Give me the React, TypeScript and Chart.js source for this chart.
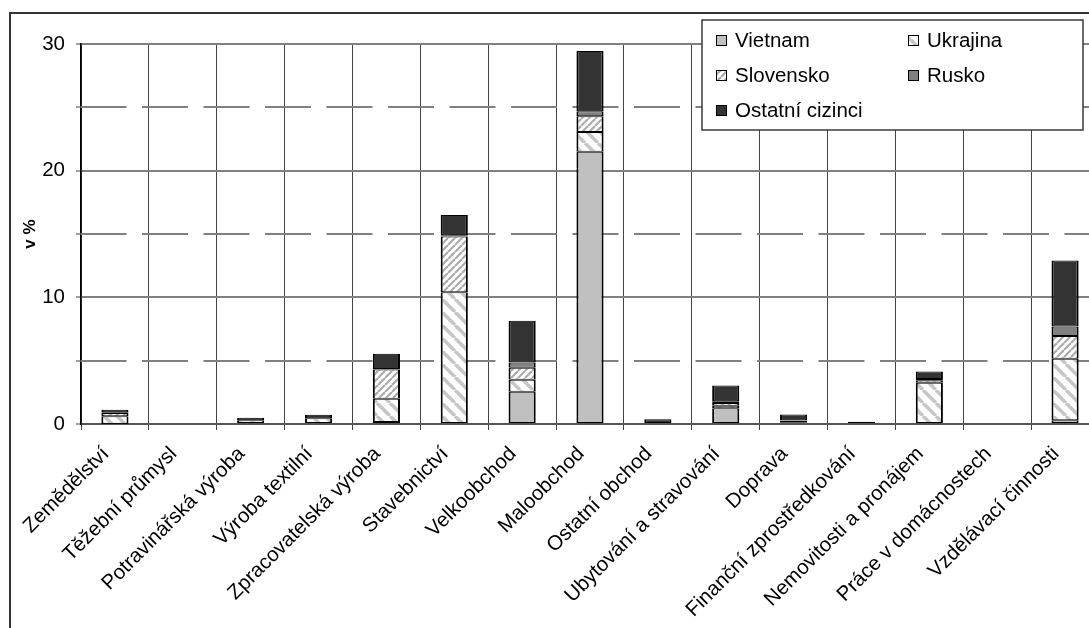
import React, { useEffect, useRef } from 'react';
import { Chart, registerables } from 'chart.js';

Chart.register(...registerables);

const categories = [
  'Zemědělství',
  'Těžební průmysl',
  'Potravinářská výroba',
  'Výroba textilní',
  'Zpracovatelská výroba',
  'Stavebnictví',
  'Velkoobchod',
  'Maloobchod',
  'Ostatní obchod',
  'Ubytování a stravování',
  'Doprava',
  'Finanční zprostředkování',
  'Nemovitosti a pronájem',
  'Práce v domácnostech',
  'Vzdělávací činnosti',
];

const seriesNames = ['Vietnam', 'Ukrajina', 'Slovensko', 'Rusko', 'Ostatní cizinci'];

const vietnam = [0.02, 0, 0, 0, 0.15, 0, 2.55, 21.5, 0, 1.25, 0.1, 0, 0, 0, 0.3];
const ukrajina = [0.6, 0, 0.3, 0.45, 1.85, 10.4, 0.95, 1.55, 0, 0.2, 0.15, 0, 3.25, 0, 4.85];
const slovensko = [0.25, 0, 0, 0, 2.3, 4.4, 0.95, 1.25, 0, 0.2, 0.05, 0, 0.2, 0, 1.8];
const rusko = [0.05, 0, 0, 0, 0.05, 0.1, 0.4, 0.4, 0, 0.15, 0, 0, 0.1, 0, 0.75];
const ostatni = [0.2, 0, 0.2, 0.28, 1.2, 1.6, 3.3, 4.75, 0.38, 1.24, 0.45, 0.17, 0.6, 0, 5.2];

const yTickValues = [0, 10, 20, 30];

const FONT = "'Liberation Sans', Arial, sans-serif";

function makeStripe(period: number, lineW: number, color: string, dir: 'back' | 'fwd') {
  const c = document.createElement('canvas');
  c.width = period;
  c.height = period;
  const g = c.getContext('2d')!;
  g.fillStyle = '#ffffff';
  g.fillRect(0, 0, period, period);
  g.strokeStyle = color;
  g.lineWidth = lineW;
  for (const o of [-period, 0, period]) {
    g.beginPath();
    if (dir === 'back') {
      g.moveTo(o, 0);
      g.lineTo(o + period, period);
    } else {
      g.moveTo(o, period);
      g.lineTo(o + period, 0);
    }
    g.stroke();
  }
  return g.createPattern(c, 'repeat')!;
}

const dashedGridPlugin = {
  id: 'dashedGrid',
  beforeDatasetsDraw(chart: any) {
    const y = chart.scales.y;
    const { left, right } = chart.chartArea;
    const ctx = chart.ctx;
    ctx.save();
    ctx.strokeStyle = '#808080';
    ctx.lineWidth = 2;
    ctx.setLineDash([46, 15.5]);
    for (const t of y.ticks) {
      if (t.value % 10 !== 0) {
        const py = Math.round(y.getPixelForValue(t.value));
        ctx.beginPath();
        ctx.moveTo(left - 0.5, py);
        ctx.lineTo(right, py);
        ctx.stroke();
      }
    }
    ctx.restore();
  },
};

const boxLegendPlugin = {
  id: 'boxLegend',
  afterDraw(chart: any) {
    const ctx = chart.ctx;
    const bx = 702, by = 20, bw = 381, bh = 110;
    ctx.save();
    ctx.fillStyle = '#ffffff';
    ctx.fillRect(bx, by, bw, bh);
    ctx.strokeStyle = '#3a3a3a';
    ctx.lineWidth = 1.5;
    ctx.strokeRect(bx, by, bw, bh);
    const colX = [716, 908];
    const rowY = [40, 75, 110];
    chart.data.datasets.forEach((ds: any, i: number) => {
      const cx = colX[i % 2];
      const cy = rowY[Math.floor(i / 2)];
      ctx.fillStyle = ds.backgroundColor;
      ctx.fillRect(cx, cy - 5, 11, 11);
      ctx.strokeStyle = '#000000';
      ctx.lineWidth = 1;
      ctx.strokeRect(cx + 0.5, cy - 4.5, 10, 10);
      ctx.fillStyle = '#000000';
      ctx.font = `20.5px ${FONT}`;
      ctx.textBaseline = 'middle';
      ctx.textAlign = 'left';
      ctx.fillText(ds.label, cx + 19, cy + 1);
    });
    ctx.restore();
  },
};

export default function App() {
  const ref = useRef<HTMLCanvasElement | null>(null);

  useEffect(() => {
    if (!ref.current) return;
    const ukrPattern = makeStripe(13, 3.5, '#c6c6c6', 'back');
    const slovPattern = makeStripe(7, 2.2, '#ababab', 'fwd');
    const fills = ['#c0c0c0', ukrPattern, slovPattern, '#808080', '#333333'];
    const values = [vietnam, ukrajina, slovensko, rusko, ostatni];

    const chart = new Chart(ref.current, {
      type: 'bar',
      data: {
        labels: categories,
        datasets: seriesNames.map((name, i) => ({
          label: name,
          data: values[i],
          backgroundColor: fills[i] as any,
          borderColor: '#000000',
          borderWidth: { top: 1, bottom: 1, left: 2, right: 2 },
          borderSkipped: false,
          barPercentage: 0.4,
          categoryPercentage: 1,
          stack: 's',
        })),
      },
      options: {
        responsive: false,
        animation: false,
        devicePixelRatio: 1,
        layout: { padding: { top: 44, right: 21, left: 0, bottom: 0 } },
        plugins: {
          legend: { display: false },
          tooltip: { enabled: false },
        },
        scales: {
          x: {
            stacked: true,
            offset: true,
            grid: {
              display: true,
              offset: true,
              color: '#444444',
              lineWidth: 1,
              tickLength: 6,
              tickColor: '#444444',
            },
            border: { display: true, color: '#555555', width: 2 },
            ticks: {
              autoSkip: false,
              maxRotation: 45,
              minRotation: 45,
              color: '#000000',
              font: { family: FONT, size: 20.5 },
              padding: 12,
              labelOffset: -9,
            },
            afterFit: (scale: any) => {
              scale.height = 204;
            },
          },
          y: {
            stacked: true,
            min: 0,
            max: 30,
            grid: {
              color: (ctx: any) => {
                const v = ctx.tick ? ctx.tick.value : 0;
                if (v === 0) return '#555555';
                return yTickValues.includes(v) ? '#808080' : 'rgba(0,0,0,0)';
              },
              lineWidth: 2,
              tickLength: 5,
              tickColor: '#808080',
              tickWidth: 1.5,
            },
            border: { display: true, color: '#000000', width: 1.5 },
            ticks: {
              stepSize: 5,
              color: '#000000',
              font: { family: FONT, size: 20.5 },
              padding: 11,
              callback: (v: any) => (yTickValues.includes(Number(v)) ? String(v) : ''),
            },
            title: {
              display: true,
              text: 'v %',
              color: '#000000',
              font: { family: FONT, size: 17, weight: 'bold' },
              padding: { top: 20, bottom: 0 },
            },
            afterFit: (scale: any) => {
              scale.width = 81;
            },
          },
        },
      },
      plugins: [dashedGridPlugin, boxLegendPlugin],
    });
    return () => chart.destroy();
  }, []);

  return (
    <div
      style={{
        position: 'fixed',
        left: 0,
        top: 0,
        width: 1089,
        height: 628,
        overflow: 'hidden',
        background: '#ffffff',
      }}
    >
      <canvas ref={ref} width={1120} height={628} style={{ position: 'absolute', left: 0, top: 0 }} />
      <div
        style={{
          position: 'absolute',
          left: 9,
          top: 12,
          width: 2000,
          height: 2000,
          borderLeft: '2px solid #333333',
          borderTop: '2px solid #333333',
          pointerEvents: 'none',
        }}
      />
    </div>
  );
}
